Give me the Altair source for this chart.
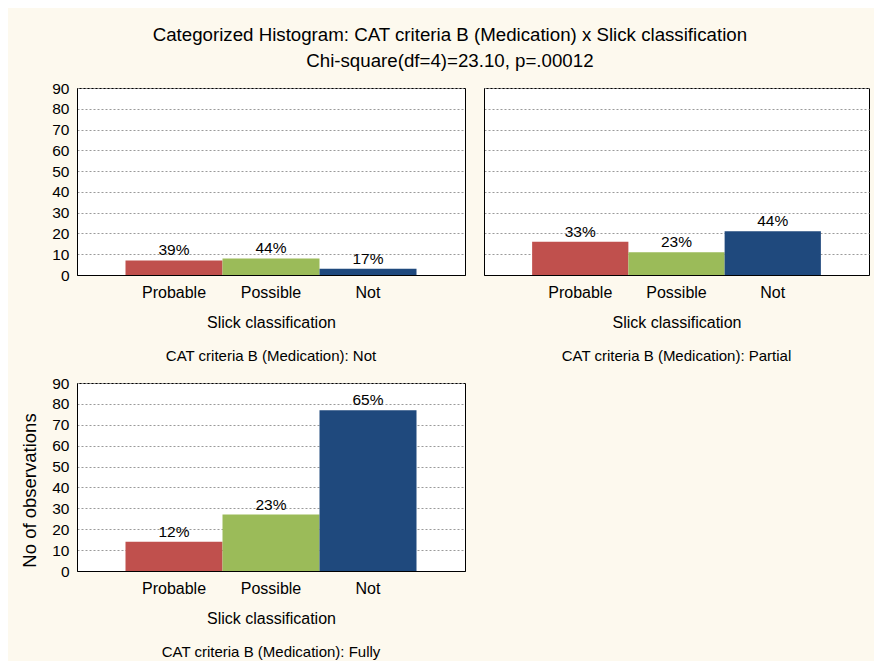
import altair as alt
import pandas as pd

# ---- data ----
categories = ["Probable", "Possible", "Not"]
panel_names = ["Not", "Partial", "Fully"]
counts_not = [7, 8, 3]
counts_partial = [16, 11, 21]
counts_fully = [14, 27, 77]
bar_colors = ["#c0504d", "#9bbb59", "#1f497d"]
y_tick_values = [0, 10, 20, 30, 40, 50, 60, 70, 80, 90]
title_lines = [
    "Categorized Histogram: CAT criteria B (Medication) x Slick classification",
    "Chi-square(df=4)=23.10, p=.00012",
]
x_title = "Slick classification"
y_title = "No of observations"
panel_prefix = "CAT criteria B (Medication): "

rows = []
for name, counts in zip(panel_names, [counts_not, counts_partial, counts_fully]):
    total = sum(counts)
    for cat, n in zip(categories, counts):
        rows.append({"panel": name, "cls": cat, "n": n,
                     "pct": f"{round(100 * n / total)}%"})
df = pd.DataFrame(rows)

FONT = "Liberation Sans"


def panel(name, labels, ytitle, width, height):
    base = alt.Chart(df).transform_filter(alt.datum.panel == name)
    x = alt.X(
        "cls:N",
        sort=categories,
        scale=alt.Scale(paddingInner=0, paddingOuter=0.5),
        axis=alt.Axis(title=x_title, labelAngle=0, labelFontSize=16,
                      titleFontSize=16, titleFontWeight="normal",
                      labelPadding=9, titlePadding=14, ticks=False,
                      domainColor="black",
                      labelColor="black", titleColor="black"),
    )
    y_axis = dict(
        values=y_tick_values,
        tickCount=10,
        labels=labels,
        labelOverlap=False,
        labelFontSize=15.5,
        labelColor="black",
        domainColor="black",
        ticks=False,
        labelPadding=8,
        grid=True,
        gridDash=[2, 2],
        gridColor="#9a9a9a",
        gridWidth=1,
    )
    if ytitle:
        y_axis.update(title=ytitle, titleFontSize=18.5, titleFontWeight="normal",
                      titleColor="black", titlePadding=12, titleY=107)
    else:
        y_axis.update(title=None)
    y = alt.Y("n:Q", scale=alt.Scale(domain=[0, 90], nice=False),
              axis=alt.Axis(**y_axis))
    bars = base.mark_bar(strokeWidth=0).encode(
        x=x,
        y=y,
        color=alt.Color("cls:N", scale=alt.Scale(domain=categories, range=bar_colors),
                        legend=None),
    )
    text = base.mark_text(baseline="alphabetic", dy=-5, fontSize=15.5,
                          color="black").encode(
        x=x,
        y=y,
        text="pct:N",
    )
    return alt.layer(bars, text).properties(
        width=width,
        height=height,
        title=alt.TitleParams(panel_prefix + name, orient="bottom", fontSize=15,
                              fontWeight="normal", color="black", offset=19,
                              anchor="middle"),
    )


chart = alt.concat(
    panel("Not", True, None, 388, 187),
    panel("Partial", False, None, 385, 187),
    panel("Fully", True, y_title, 388, 188),
    columns=2,
    spacing={"row": 108, "column": 19},
    bounds="flush",
).properties(
    title=alt.TitleParams(title_lines, anchor="middle", fontSize=18.7,
                          fontWeight="normal", color="black", lineHeight=26,
                          offset=10, dx=5),
    background="#fdf9ee",
    padding={"left": 12, "top": 17, "right": 4, "bottom": 0},
).configure(font=FONT).configure_view(
    stroke="black", strokeWidth=1, fill="white"
)

chart.save("out.html", embed_options={"renderer": "svg", "actions": False})
